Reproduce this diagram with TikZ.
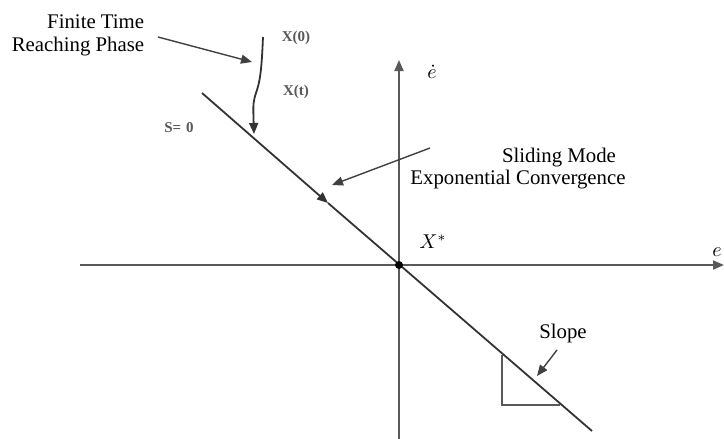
\documentclass[tikz,border=0pt]{standalone}
\usepackage{fontspec}
\setmainfont{Liberation Serif}
\usetikzlibrary{arrows.meta,positioning}

\begin{document}
\begin{tikzpicture}[x=0.5pt,y=-0.5pt,>={Triangle[length=5.5pt,width=4.5pt]},
    axis/.style={line width=1pt,draw=black!65},
    curve/.style={line width=0.9pt,draw=black!80},
    pointer/.style={line width=0.7pt,draw=black!75,->},
    lbl/.style={inner sep=0pt,font=\fontsize{10.4}{11.5}\selectfont},
    small/.style={inner sep=0pt,font=\fontsize{7.5}{8}\selectfont\bfseries,text=black!65}]
  \useasboundingbox (0,0) rectangle (724,439);
  % axes
  \coordinate (O) at (399,265);
  \coordinate (xl) at (80,265);
  \coordinate (xr) at (724,265);
  \coordinate (yb) at (399,439);
  \coordinate (yt) at (399,60);
  \draw[axis] (xl) -- (O);
  \draw[axis,->] (O) -- (xr);
  \draw[axis] (yb) -- (O);
  \draw[axis,->] (O) -- (yt);
  \node[lbl] (edot) at (432,72) {$\dot{e}$};
  \node[lbl] (eax) at (717,252) {$e$};
  % sliding surface
  \coordinate (sTop) at (202,93);
  \coordinate (sMid) at (328,203);
  \coordinate (sBot) at (592,431);
  \draw[curve,->] (sTop) -- (sMid);
  \draw[curve] (sMid) -- (sBot);
  \fill (O) circle (4);
  \node[lbl] (xstar) at (433,242) {$X^{*}$};
  \node[small] (s0) at (179,128) {S=\,\,0};
  % reaching phase
  \coordinate (x0) at (263,37);
  \coordinate (xt) at (254,134);
  \draw[curve,->] (x0) .. controls (262,60) and (261,78) .. (257,90)
    .. controls (253,102) .. (xt);
  \node[small] (lx0) at (296,38) {X(0)};
  \node[small] (lxt) at (296,92) {X(t)};
  \node[lbl,align=right] (reach) at (78,35) {Finite Time\\Reaching Phase};
  \draw[pointer] (158,37) -- (252,62);
  % sliding mode
  \node[lbl] (slide1) at (559,158) {Sliding Mode};
  \node[lbl] (slide2) at (518,180) {Exponential Convergence};
  \draw[pointer] (430,148) -- (332,185);
  % slope
  \coordinate (t1) at (502,355);
  \coordinate (t2) at (502,405);
  \coordinate (t3) at (560,405);
  \draw[axis,line width=0.8pt] (t1) -- (t2) -- (t3);
  \node[lbl] (slope) at (563,333) {Slope};
  \draw[pointer] (557,350) -- (537,376);
\end{tikzpicture}
\end{document}
